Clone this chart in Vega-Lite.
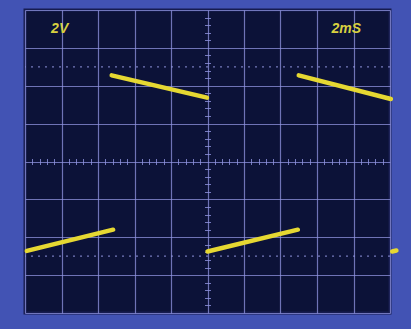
{
  "$schema": "https://vega.github.io/schema/vega-lite/v6.json",
  "width": 365,
  "height": 303,
  "autosize": {"type": "none"},
  "padding": {"left": 25, "top": 10, "right": 21, "bottom": 16},
  "background": "#4253b4",
  "config": {
    "view": {"fill": "#0c1238", "stroke": "#161c50", "strokeWidth": 3},
    "axis": {"domain": false, "labels": false, "title": null}
  },
  "datasets": {
    "trace": [
      {"seg": "A", "t": 0.1, "v": -4.72},
      {"seg": "A", "t": 4.83, "v": -3.6},
      {"seg": "B", "t": 4.75, "v": 4.55},
      {"seg": "B", "t": 9.97, "v": 3.37},
      {"seg": "C", "t": 10.0, "v": -4.75},
      {"seg": "C", "t": 14.95, "v": -3.6},
      {"seg": "D", "t": 15.0, "v": 4.55},
      {"seg": "D", "t": 20.05, "v": 3.3},
      {"seg": "E", "t": 20.12, "v": -4.75},
      {"seg": "E", "t": 20.35, "v": -4.7}
    ],
    "dotted": [{"v": 5}, {"v": -5}]
  },
  "resolve": {"axis": {"x": "independent", "y": "independent"}},
  "layer": [
    {
      "data": {"name": "dotted"},
      "mark": {"type": "rule", "color": "#9094dc", "strokeWidth": 1.2, "strokeDash": [2, 5], "opacity": 0.8},
      "encoding": {
        "y": {"field": "v", "type": "quantitative", "scale": {"domain": [-8, 8], "nice": false},
          "axis": {"values": [-8, -6, -4, -2, 0, 2, 4, 6, 8], "grid": true, "gridColor": "#9094e0", "gridOpacity": 0.75, "gridWidth": 1.2, "ticks": false}}
      }
    },
    {
      "data": {"name": "trace"},
      "mark": {"type": "line", "color": "#e6d832", "strokeWidth": 4.5, "strokeCap": "round", "clip": false},
      "encoding": {
        "x": {"field": "t", "type": "quantitative", "scale": {"domain": [0, 20], "nice": false},
          "axis": {"values": [0, 2, 4, 6, 8, 10, 12, 14, 16, 18, 20], "grid": true, "gridColor": "#9094e0", "gridOpacity": 0.75, "gridWidth": 1.2, "ticks": false}},
        "y": {"field": "v", "type": "quantitative", "scale": {"domain": [-8, 8], "nice": false},
          "axis": {"orient": "left", "offset": -185.5, "values": [-7.6, -7.2, -6.8, -6.4, -5.6, -5.2, -4.8, -4.4, -3.6, -3.2, -2.8, -2.4, -1.6, -1.2, -0.8, -0.4, 0.4, 0.8, 1.2, 1.6, 2.4, 2.8, 3.2, 3.6, 4.4, 4.8, 5.2, 5.6, 6.4, 6.8, 7.2, 7.6], "grid": false, "ticks": true, "tickSize": 6, "tickColor": "#9094e0", "tickOpacity": 0.8}},
        "detail": {"field": "seg"}
      }
    },
    {
      "data": {"values": [{"x": 0}]},
      "mark": {"type": "rule", "opacity": 0},
      "encoding": {
        "x": {"field": "x", "type": "quantitative", "scale": {"domain": [0, 20], "nice": false},
          "axis": {"orient": "bottom", "offset": -154.5, "values": [0.4, 0.8, 1.2, 1.6, 2.4, 2.8, 3.2, 3.6, 4.4, 4.8, 5.2, 5.6, 6.4, 6.8, 7.2, 7.6, 8.4, 8.8, 9.2, 9.6, 10.4, 10.8, 11.2, 11.6, 12.4, 12.8, 13.2, 13.6, 14.4, 14.8, 15.2, 15.6, 16.4, 16.8, 17.2, 17.6, 18.4, 18.8, 19.2, 19.6], "grid": false, "ticks": true, "tickSize": 6, "tickColor": "#9094e0", "tickOpacity": 0.8}}
      }
    },
    {
      "data": {"values": [{"label": "2V"}, {"label": "2mS"}]},
      "transform": [{"filter": "datum.label == '2V'"}],
      "mark": {"type": "text", "color": "#d8d040", "font": "Liberation Sans", "fontSize": 14, "fontWeight": "bold", "fontStyle": "italic"},
      "encoding": {
        "x": {"datum": 1.9, "type": "quantitative", "scale": {"domain": [0, 20], "nice": false}, "axis": null},
        "y": {"datum": 7.0, "type": "quantitative", "scale": {"domain": [-8, 8], "nice": false}, "axis": null},
        "text": {"field": "label"}
      }
    },
    {
      "data": {"values": [{"label": "2V"}, {"label": "2mS"}]},
      "transform": [{"filter": "datum.label == '2mS'"}],
      "mark": {"type": "text", "color": "#d8d040", "font": "Liberation Sans", "fontSize": 14, "fontWeight": "bold", "fontStyle": "italic"},
      "encoding": {
        "x": {"datum": 17.6, "type": "quantitative", "scale": {"domain": [0, 20], "nice": false}, "axis": null},
        "y": {"datum": 7.0, "type": "quantitative", "scale": {"domain": [-8, 8], "nice": false}, "axis": null},
        "text": {"field": "label"}
      }
    }
  ]
}
